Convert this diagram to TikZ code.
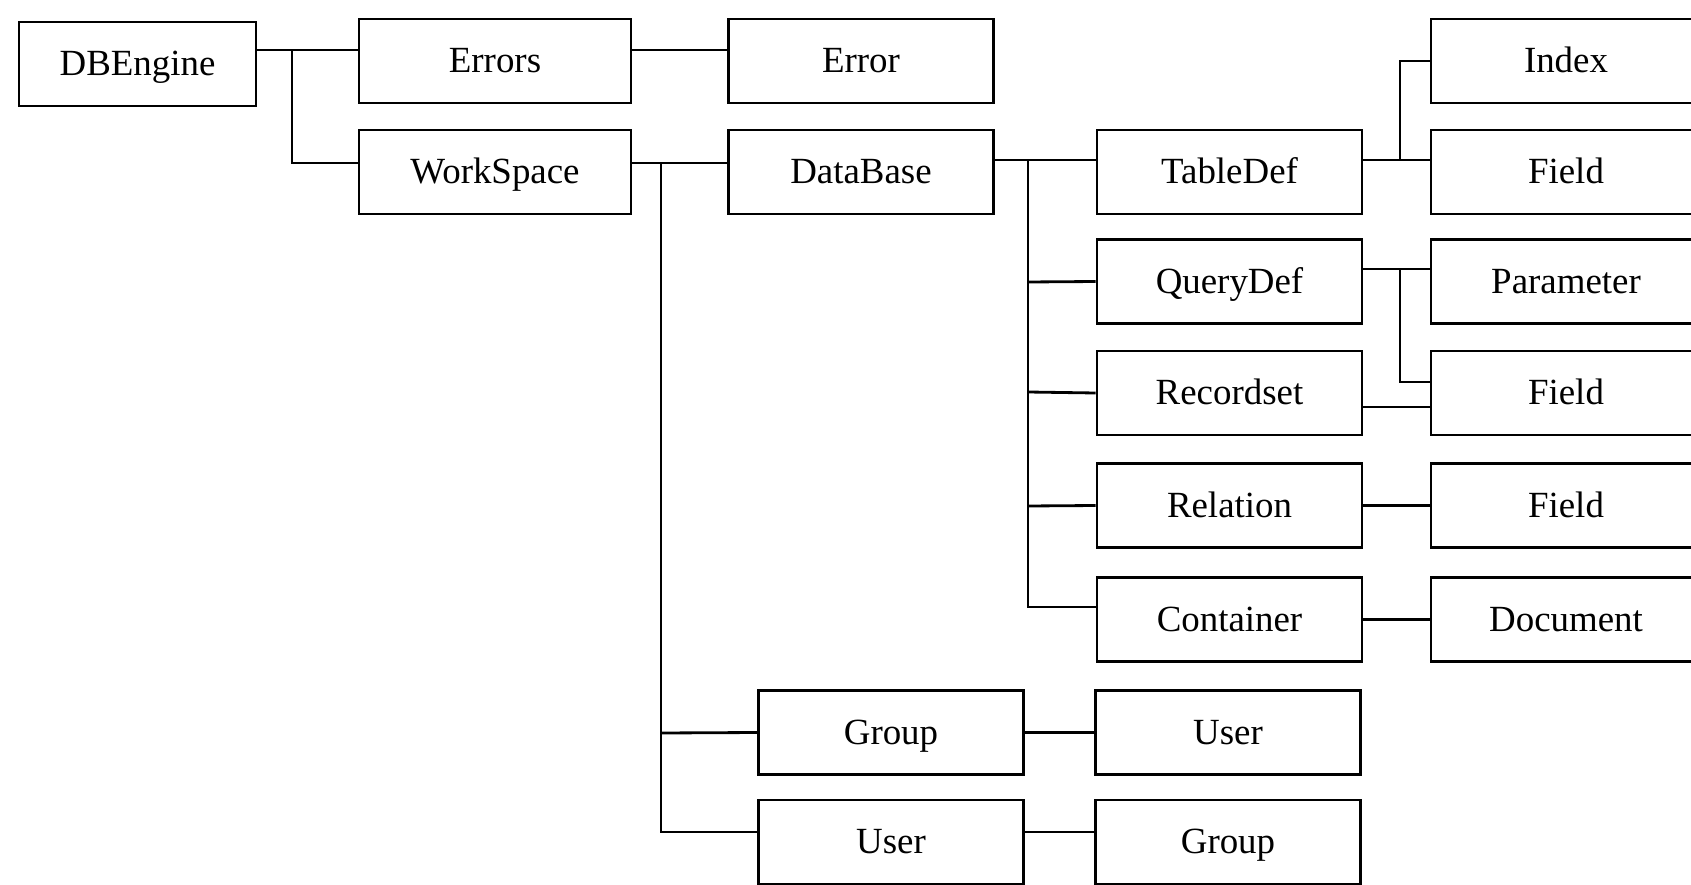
\documentclass[tikz,border=0pt]{standalone}
\usepackage{fontspec}
\setmainfont{Liberation Serif}
\tikzset{
obj/.style = { draw, line width = 1.6pt, minimum width = 5.3cm, minimum height = 1.68cm, inner sep = 0pt, text height = 13.5pt, text depth = 0pt, font = \fontsize{21}{25}\selectfont },
link/.style = { line width = 1.6pt }
}

\begin{document}
\begin{tikzpicture}[x=0.02cm, y=-0.02cm, link]
	\useasboundingbox (0,0) rectangle (1691,885);
	% boxes, one column after another
	\node[obj, minimum width = 4.74cm] (dbengine) at (137.5,64) {DBEngine};
	\node[obj, minimum width = 5.44cm] (errors) at (495,61) {Errors};
	\node[obj, minimum width = 5.44cm] (workspace) at (495,172) {WorkSpace};
	\node[obj] (error) at (861,61) {Error};
	\node[obj] (database) at (861,172) {DataBase};
	\node[obj] (group) at (891,732.5) {Group};
	\node[obj] (user) at (891,842) {User};
	\node[obj] (tabledef) at (1229.5,172) {TableDef};
	\node[obj] (querydef) at (1229.5,281.5) {QueryDef};
	\node[obj] (recordset) at (1229.5,393) {Recordset};
	\node[obj] (relation) at (1229.5,505.5) {Relation};
	\node[obj] (container) at (1229.5,619.5) {Container};
	\node[obj] (usertwo) at (1228,732.5) {User};
	\node[obj] (grouptwo) at (1228,842) {Group};
	\node[obj, minimum width = 5.4cm] (index) at (1566,61) {Index};
	\node[obj, minimum width = 5.4cm] (fieldone) at (1566,172) {Field};
	\node[obj, minimum width = 5.4cm] (parameter) at (1566,281.5) {Parameter};
	\node[obj, minimum width = 5.4cm] (fieldtwo) at (1566,393) {Field};
	\node[obj, minimum width = 5.4cm] (fieldthree) at (1566,505.5) {Field};
	\node[obj, minimum width = 5.4cm] (document) at (1566,619.5) {Document};

	% connectors
	\draw (dbengine.east |- 0,50) -- (errors.west |- 0,50);
	\draw (292,50) |- (workspace.west |- 0,163);
	\draw (errors.east |- 0,50) -- (error.west |- 0,50);
	\draw (workspace.east |- 0,163) -- (database.west |- 0,163);
	\draw (661,163) |- (user.west |- 0,832);
	\draw (661,733) -- (group.west);
	\draw (database.east |- 0,160) -- (tabledef.west |- 0,160);
	\draw (1028,160) |- (container.west |- 0,607);
	\draw (1028,282) -- (querydef.west);
	\draw (1028,392) -- (recordset.west);
	\draw (1028,506) -- (relation.west);
	\draw (tabledef.east |- 0,160) -- (fieldone.west |- 0,160);
	\draw (1400,160) |- (index.west);
	\draw (querydef.east |- 0,269) -- (parameter.west |- 0,269);
	\draw (1400,269) |- (fieldtwo.west |- 0,382);
	\draw (recordset.east |- 0,407) -- (fieldtwo.west |- 0,407);
	\draw (relation) -- (fieldthree);
	\draw (container) -- (document);
	\draw (group) -- (usertwo);
	\draw (user.east |- 0,832) -- (grouptwo.west |- 0,832);
\end{tikzpicture}
\end{document}
